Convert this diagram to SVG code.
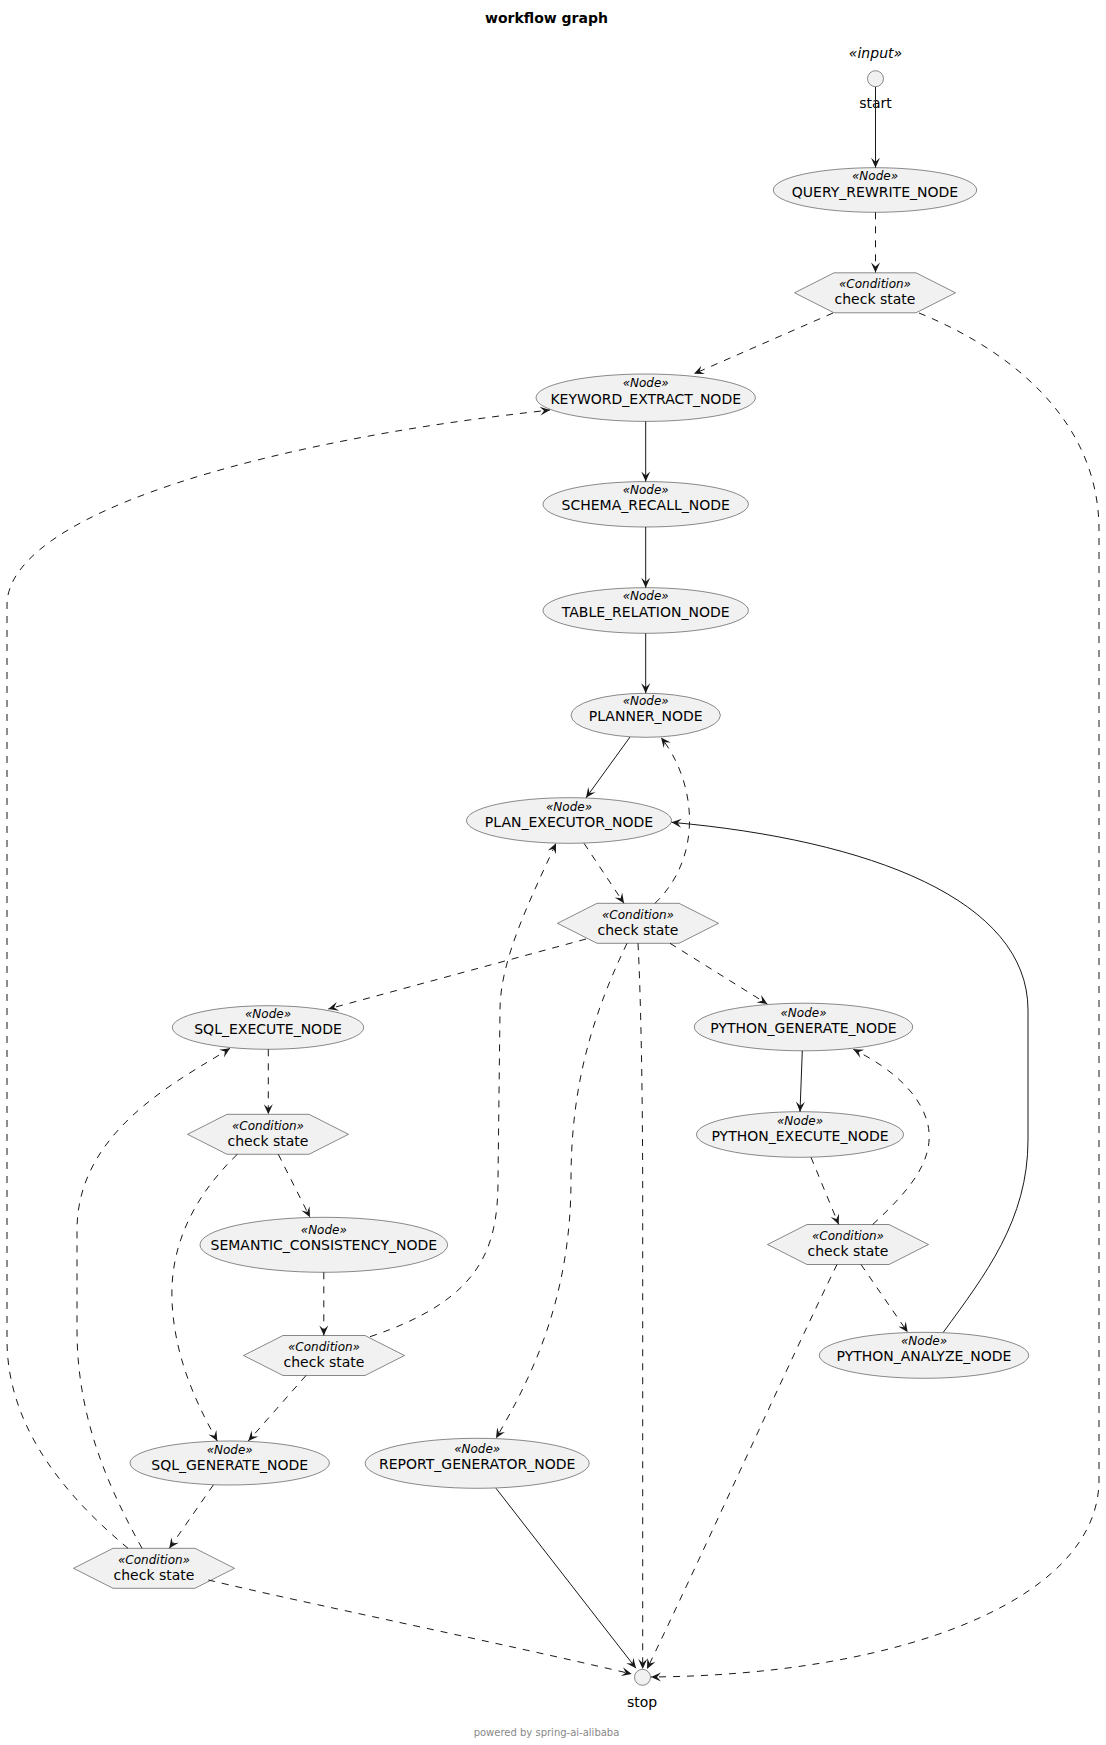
<svg xmlns="http://www.w3.org/2000/svg" width="1106" height="1745" viewBox="0 0 1106 1745">
<style>
text{font-family:"DejaVu Sans","Liberation Sans",sans-serif;fill:#000;text-anchor:middle}
.t{font-size:14px;font-weight:bold}
.st{font-size:12px;font-style:italic}
.n{font-size:14px}
.in{font-size:14px;font-style:italic}
.ft{font-size:10px;fill:#888}
.sh{fill:#F1F1F1;stroke:#181818;stroke-width:0.5}
.e{fill:none;stroke:#181818;stroke-width:1;marker-end:url(#ah)}
.d{stroke-dasharray:7,7}
</style>
<defs>
<marker id="ah" markerUnits="userSpaceOnUse" markerWidth="12" markerHeight="12" viewBox="-11 -6 12 12" refX="0" refY="0" orient="auto">
<path d="M0,0 L-10,-4.5 L-6,0 L-10,4.5 Z" fill="#181818"/>
</marker>
</defs>
<rect width="1106" height="1745" fill="#fff"/>
<text class="t" x="546.5" y="23">workflow graph</text>

<g id="start">
<text class="in" x="875.5" y="58">«input»</text>
<circle class="sh" cx="875.5" cy="78.7" r="8"/>
<text class="n" x="875.5" y="108">start</text>
</g>
<g id="QUERY_REWRITE_NODE">
<ellipse class="sh" cx="875" cy="190" rx="101.7" ry="22.3"/>
<text class="st" x="875" y="180">«Node»</text>
<text class="n" x="875" y="196.5">QUERY_REWRITE_NODE</text>
</g>
<g id="cond1">
<polygon class="sh" points="794.5,292.8 834,272.8 916,272.8 955.5,292.8 916,312.8 834,312.8"/>
<text class="st" x="875" y="288.3">«Condition»</text>
<text class="n" x="875" y="304.3">check state</text>
</g>
<g id="KEYWORD_EXTRACT_NODE">
<ellipse class="sh" cx="645.7" cy="397.7" rx="109.7" ry="23.7"/>
<text class="st" x="645.7" y="387">«Node»</text>
<text class="n" x="645.7" y="403.5">KEYWORD_EXTRACT_NODE</text>
</g>
<g id="SCHEMA_RECALL_NODE">
<ellipse class="sh" cx="645.7" cy="504.3" rx="102.7" ry="22.7"/>
<text class="st" x="645.7" y="494">«Node»</text>
<text class="n" x="645.7" y="510.3">SCHEMA_RECALL_NODE</text>
</g>
<g id="TABLE_RELATION_NODE">
<ellipse class="sh" cx="645.7" cy="610.5" rx="102.7" ry="22.8"/>
<text class="st" x="645.7" y="600">«Node»</text>
<text class="n" x="645.7" y="616.5">TABLE_RELATION_NODE</text>
</g>
<g id="PLANNER_NODE">
<ellipse class="sh" cx="645.7" cy="715.3" rx="74.7" ry="22"/>
<text class="st" x="645.7" y="705">«Node»</text>
<text class="n" x="645.7" y="721.3">PLANNER_NODE</text>
</g>
<g id="PLAN_EXECUTOR_NODE">
<ellipse class="sh" cx="569" cy="820.5" rx="102.5" ry="22.8"/>
<text class="st" x="569" y="810.5">«Node»</text>
<text class="n" x="569" y="826.7">PLAN_EXECUTOR_NODE</text>
</g>
<g id="cond2">
<polygon class="sh" points="557.5,923.3 597,903.3 679,903.3 718.5,923.3 679,943.3 597,943.3"/>
<text class="st" x="638" y="918.5">«Condition»</text>
<text class="n" x="638" y="935">check state</text>
</g>
<g id="SQL_EXECUTE_NODE">
<ellipse class="sh" cx="268" cy="1027.5" rx="95.7" ry="21.8"/>
<text class="st" x="268" y="1018">«Node»</text>
<text class="n" x="268" y="1034">SQL_EXECUTE_NODE</text>
</g>
<g id="PYTHON_GENERATE_NODE">
<ellipse class="sh" cx="803.5" cy="1027" rx="109.2" ry="23.8"/>
<text class="st" x="803.5" y="1016.5">«Node»</text>
<text class="n" x="803.5" y="1033">PYTHON_GENERATE_NODE</text>
</g>
<g id="cond3">
<polygon class="sh" points="187.5,1134.3 227,1114.3 309,1114.3 348.5,1134.3 309,1154.3 227,1154.3"/>
<text class="st" x="268" y="1129.5">«Condition»</text>
<text class="n" x="268" y="1146">check state</text>
</g>
<g id="PYTHON_EXECUTE_NODE">
<ellipse class="sh" cx="800" cy="1134.5" rx="103.5" ry="22.8"/>
<text class="st" x="800" y="1124.5">«Node»</text>
<text class="n" x="800" y="1140.7">PYTHON_EXECUTE_NODE</text>
</g>
<g id="SEMANTIC_CONSISTENCY_NODE">
<ellipse class="sh" cx="323.8" cy="1244.8" rx="123.8" ry="27.5"/>
<text class="st" x="323.8" y="1233.5">«Node»</text>
<text class="n" x="323.8" y="1250">SEMANTIC_CONSISTENCY_NODE</text>
</g>
<g id="cond6">
<polygon class="sh" points="767.5,1244.5 807,1224.5 889,1224.5 928.5,1244.5 889,1264.5 807,1264.5"/>
<text class="st" x="848" y="1239.7">«Condition»</text>
<text class="n" x="848" y="1256.2">check state</text>
</g>
<g id="cond4">
<polygon class="sh" points="243.5,1355.5 283,1335.5 365,1335.5 404.5,1355.5 365,1375.5 283,1375.5"/>
<text class="st" x="324" y="1350.7">«Condition»</text>
<text class="n" x="324" y="1367.2">check state</text>
</g>
<g id="PYTHON_ANALYZE_NODE">
<ellipse class="sh" cx="924" cy="1355.3" rx="104.7" ry="23"/>
<text class="st" x="924" y="1345">«Node»</text>
<text class="n" x="924" y="1361.3">PYTHON_ANALYZE_NODE</text>
</g>
<g id="SQL_GENERATE_NODE">
<ellipse class="sh" cx="229.7" cy="1463" rx="99.7" ry="22"/>
<text class="st" x="229.7" y="1453.5">«Node»</text>
<text class="n" x="229.7" y="1470">SQL_GENERATE_NODE</text>
</g>
<g id="REPORT_GENERATOR_NODE">
<ellipse class="sh" cx="477.2" cy="1463.3" rx="112" ry="25"/>
<text class="st" x="477.2" y="1452.5">«Node»</text>
<text class="n" x="477.2" y="1468.8">REPORT_GENERATOR_NODE</text>
</g>
<g id="cond5">
<polygon class="sh" points="73.5,1568.3 113,1548.3 195,1548.3 234.5,1568.3 195,1588.3 113,1588.3"/>
<text class="st" x="154" y="1563.5">«Condition»</text>
<text class="n" x="154" y="1580">check state</text>
</g>
<g id="stop">
<circle class="sh" cx="642.5" cy="1677.3" r="8"/>
<text class="n" x="642" y="1707">stop</text>
</g>

<g id="connectors">
<path class="e" d="M875.5,87 L875.5,167.7"/>
<path class="e d" d="M875.5,212.3 L875.5,272.5"/>
<path class="e d" d="M833,313 L694,373.8"/>
<path class="e d" d="M919,313 C1010,350 1099,420 1099,530 L1099,1480 C1099,1600 900,1675 651,1677"/>
<path class="e" d="M645.7,421.4 L645.7,481.6"/>
<path class="e" d="M645.7,527 L645.7,587.7"/>
<path class="e" d="M645.7,633.3 L645.7,693.3"/>
<path class="e" d="M630,737 L586,797.8"/>
<path class="e d" d="M584,843.3 L624,903.3"/>
<path class="e d" d="M655,903.3 C705,855 695,780 661,737.5"/>
<path class="e d" d="M586,939 L328.3,1009"/>
<path class="e d" d="M627,943.3 C590,1020 571,1090 571,1180 C571,1300 530,1380 496,1438.3"/>
<path class="e d" d="M638,943.3 C641,1000 642.7,1100 642.7,1200 L642.7,1669"/>
<path class="e d" d="M670,943.3 L767.3,1004"/>
<path class="e d" d="M268.3,1049.3 L268.3,1114.3"/>
<path class="e d" d="M278.3,1154.3 L310,1217.3"/>
<path class="e d" d="M237.3,1154.3 C190,1200 170,1250 172,1300 C174,1360 200,1410 217.3,1441"/>
<path class="e d" d="M323.8,1272.3 L323.8,1335.5"/>
<path class="e d" d="M370,1336.7 C480,1300 498,1250 498,1180 L500,1010 C500,960 530,900 556,843.3"/>
<path class="e d" d="M306,1375.5 L248.3,1441"/>
<path class="e d" d="M213.3,1485 L169.3,1548.3"/>
<path class="e d" d="M128,1548.3 C70,1500 7,1430 7,1340 L7,605 C7,545 120,490 300,450 C400,428 480,418 550,410"/>
<path class="e d" d="M142,1548.3 C110,1490 77,1420 77,1330 L77,1230 C77,1130 180,1080 230,1048.3"/>
<path class="e d" d="M208.3,1580 C300,1602 500,1643 631.7,1674"/>
<path class="e" d="M802.3,1050.8 L800,1111.7"/>
<path class="e d" d="M811,1157.3 L838.7,1224.5"/>
<path class="e d" d="M872.7,1224.5 C910,1190 935,1160 928,1125 C920,1090 885,1065 853.3,1049.3"/>
<path class="e d" d="M861,1264.5 L907.7,1332.3"/>
<path class="e d" d="M837,1264.5 C790,1360 700,1560 647,1669"/>
<path class="e" d="M943.3,1332.3 C985,1275 1028,1220 1028,1140 L1028,1010 C1028,900 870,840 671.5,822.3"/>
<path class="e" d="M496,1488.3 L636,1668.3"/>
</g>
<text class="ft" x="546.5" y="1735.5">powered by spring-ai-alibaba</text>
</svg>
